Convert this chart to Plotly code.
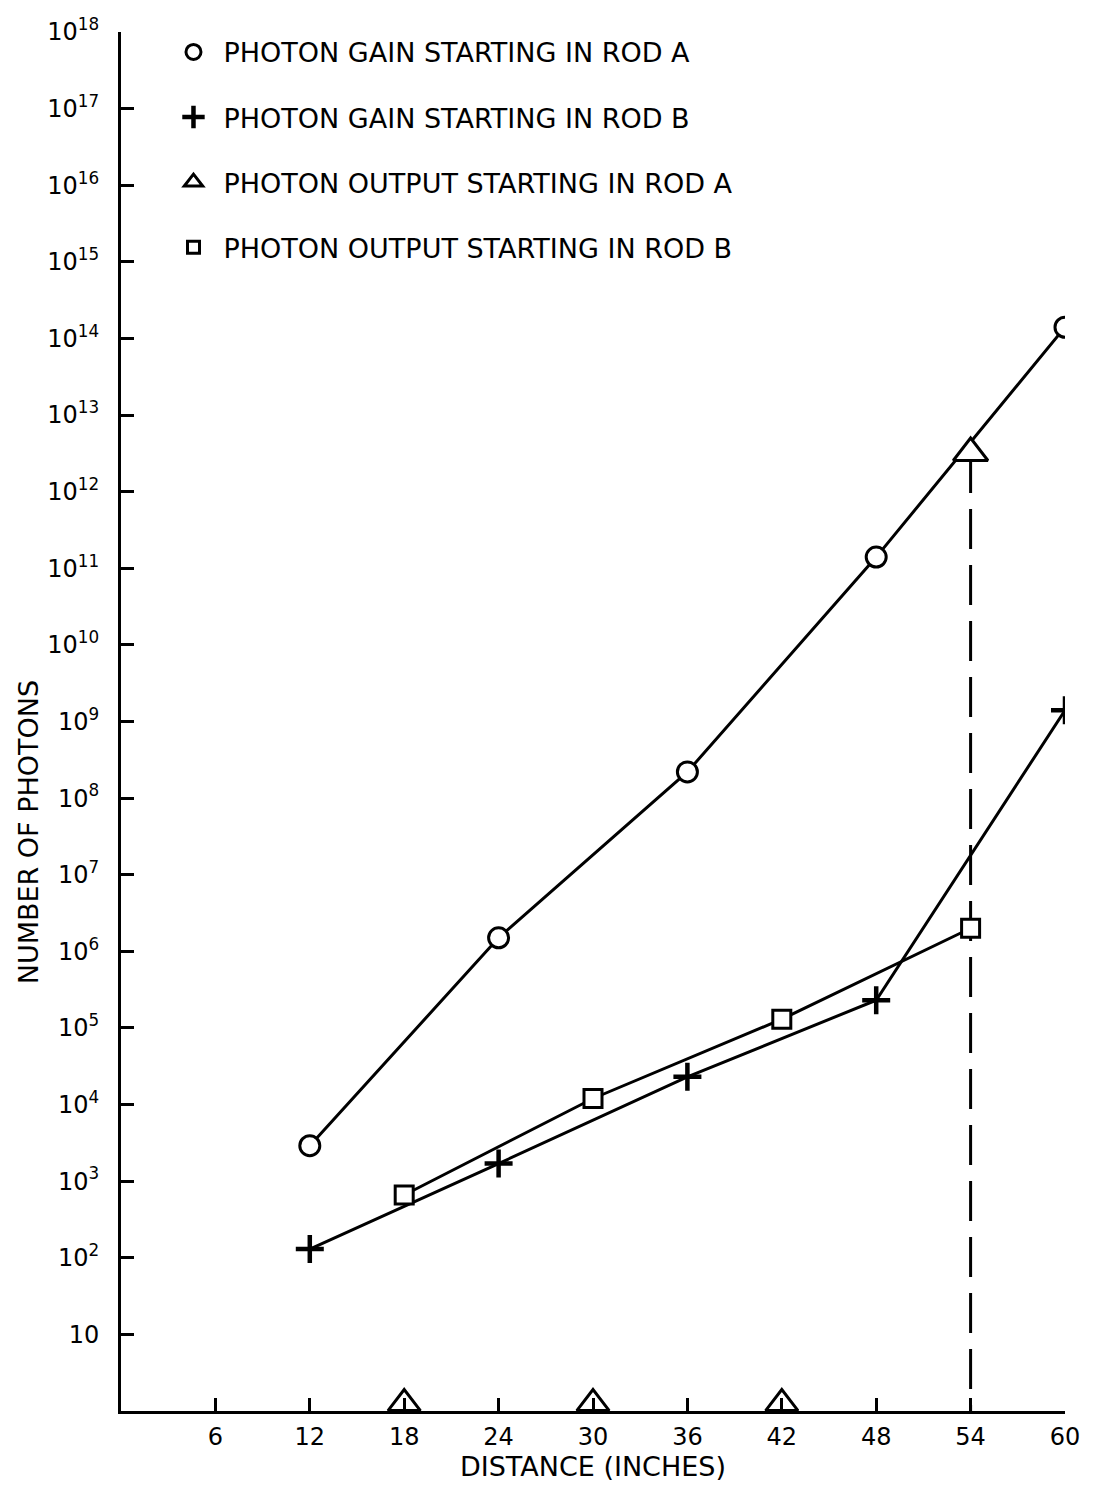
import plotly.graph_objects as go

# ---- data ----
gain_a_x = [12, 24, 36, 48, 60]
gain_a_y = [2.9e3, 1.5e6, 2.2e8, 1.4e11, 1.4e14]

gain_b_x = [12, 24, 36, 48, 60]
gain_b_y = [1.3e2, 1.7e3, 2.3e4, 2.3e5, 1.4e9]

output_a_x = [54]
output_a_y = [3.2e12]

output_b_x = [18, 30, 42, 54]
output_b_y = [6.6e2, 1.2e4, 1.3e5, 2.0e6]

rod_marks_x = [18, 30, 42]          # open triangles sitting on the distance axis
rod_marks_y = [1.25, 1.25, 1.25]

x_ticks = [6, 12, 18, 24, 30, 36, 42, 48, 54, 60]
y_exponents = list(range(1, 19))
y_tickvals = [10 ** e for e in y_exponents]
y_ticktext = ["10" if e == 1 else "10<sup>%d</sup>" % e for e in y_exponents]

labels = [
    "PHOTON GAIN STARTING IN ROD A",
    "PHOTON GAIN STARTING IN ROD B",
    "PHOTON OUTPUT STARTING IN ROD A",
    "PHOTON OUTPUT STARTING IN ROD B",
]

FONT = "DejaVu Sans"
BLACK = "black"

fig = go.Figure()

# dashed drop line from the output-A triangle to the axis
fig.add_trace(go.Scatter(
    x=[output_a_x[0], output_a_x[0]], y=[output_a_y[0], 1],
    mode="lines", line=dict(color=BLACK, width=3, dash="40px,16px"),
    showlegend=False, hoverinfo="skip"))

# gain B (+)
fig.add_trace(go.Scatter(
    x=gain_b_x, y=gain_b_y, mode="lines+markers",
    line=dict(color=BLACK, width=3),
    marker=dict(symbol="cross-thin", size=20, line=dict(color=BLACK, width=4.5)),
    showlegend=False))

# output B (square)
fig.add_trace(go.Scatter(
    x=output_b_x, y=output_b_y, mode="lines+markers",
    line=dict(color=BLACK, width=3),
    marker=dict(symbol="square", size=18, color="white", line=dict(color=BLACK, width=3)),
    showlegend=False))

# gain A (circle)
fig.add_trace(go.Scatter(
    x=gain_a_x, y=gain_a_y, mode="lines+markers",
    line=dict(color=BLACK, width=3),
    marker=dict(symbol="circle", size=20, color="white", line=dict(color=BLACK, width=3)),
    showlegend=False))

# output A (triangle)
fig.add_trace(go.Scatter(
    x=output_a_x, y=output_a_y, mode="markers",
    marker=dict(symbol="triangle-up", size=30, color="white", line=dict(color=BLACK, width=3)),
    showlegend=False))

# rod marks on the x axis
fig.add_trace(go.Scatter(
    x=rod_marks_x, y=rod_marks_y, mode="markers",
    marker=dict(symbol="triangle-up-open", size=28, color=BLACK, line=dict(color=BLACK, width=3)),
    showlegend=False, cliponaxis=False, hoverinfo="skip"))

# legend entries (marker only)
legend_markers = [
    dict(symbol="circle-open", size=15, color=BLACK, line=dict(color=BLACK, width=3)),
    dict(symbol="cross-thin", size=16, color=BLACK, line=dict(color=BLACK, width=4.5)),
    dict(symbol="triangle-up-open", size=16, color=BLACK, line=dict(color=BLACK, width=3)),
    dict(symbol="square-open", size=12, color=BLACK, line=dict(color=BLACK, width=3)),
]
for i, (lab, mk) in enumerate(zip(labels, legend_markers)):
    fig.add_trace(go.Scatter(
        x=[None], y=[None], mode="markers", marker=mk, name=lab,
        legendgroup="g%d" % i, showlegend=True))

# the page adds an 8px offset, so margins compensate for it
fig.update_layout(
    width=1094, height=1489,
    margin=dict(l=113, r=37, t=24, b=86, autoexpand=False),
    paper_bgcolor="white", plot_bgcolor="white",
    font=dict(family=FONT, color=BLACK),
    legend=dict(
        x=0.045, y=1.003, xanchor="left", yanchor="top",
        font=dict(family=FONT, size=27, color=BLACK),
        bgcolor="rgba(0,0,0,0)", tracegroupgap=27, itemwidth=50,
        traceorder="grouped", itemclick=False),
    xaxis=dict(
        range=[0, 60], tickvals=x_ticks, ticktext=[str(v) for v in x_ticks],
        ticks="inside", ticklen=13, tickwidth=3, tickcolor=BLACK,
        showline=True, linewidth=3, linecolor=BLACK,
        showgrid=False, zeroline=False,
        tickfont=dict(family=FONT, size=24, color=BLACK),
        ticklabelstandoff=2,
        title=dict(text="DISTANCE (INCHES)", font=dict(family=FONT, size=27, color=BLACK), standoff=6),
    ),
    yaxis=dict(
        type="log", range=[0, 18],
        tickvals=y_tickvals, ticktext=y_ticktext,
        ticks="inside", ticklen=13, tickwidth=3, tickcolor=BLACK,
        showline=True, linewidth=3, linecolor=BLACK,
        showgrid=False, zeroline=False,
        tickfont=dict(family=FONT, size=24, color=BLACK),
        ticklabelstandoff=14,
    ),
    annotations=[dict(
        text="NUMBER OF PHOTONS", xref="paper", yref="paper",
        x=-0.098, y=0.42, xanchor="center", yanchor="middle",
        textangle=-90, showarrow=False,
        font=dict(family=FONT, size=27, color=BLACK))],
)

fig.write_html("out.html")
